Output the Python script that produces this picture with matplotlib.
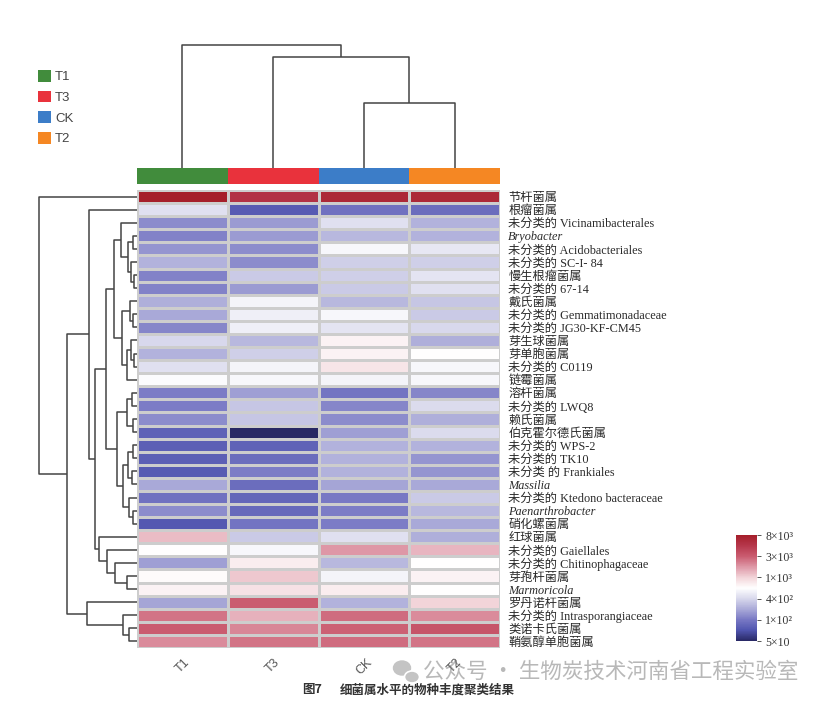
import matplotlib
matplotlib.use('Agg')
import matplotlib.pyplot as plt
import numpy as np
from matplotlib.colors import LinearSegmentedColormap, ListedColormap
from matplotlib.patches import Patch, Ellipse
import matplotlib.cm as cm
import matplotlib.colors as mcolors

# ---------------- data ----------------
groups = ['T1', 'T3', 'CK', 'T2']
group_colors = ['#418c3c', '#e9323c', '#3c7dc8', '#f58723']
legend_order = ['T1', 'T3', 'CK', 'T2']

genera = ['节杆菌属', '根瘤菌属', '未分类的 Vicinamibacterales', 'Bryobacter',
          '未分类的 Acidobacteriales', '未分类的 SC-I- 84', '慢生根瘤菌属', '未分类的 67-14',
          '戴氏菌属', '未分类的 Gemmatimonadaceae', '未分类的 JG30-KF-CM45', '芽生球菌属',
          '芽单胞菌属', '未分类的 C0119', '链霉菌属', '溶杆菌属', '未分类的 LWQ8', '赖氏菌属',
          '伯克霍尔德氏菌属', '未分类的 WPS-2', '未分类的 TK10', '未分类 的 Frankiales',
          'Massilia', '未分类的 Ktedono bacteraceae', 'Paenarthrobacter', '硝化螺菌属',
          '红球菌属', '未分类的 Gaiellales', '未分类的 Chitinophagaceae', '芽孢杆菌属',
          'Marmoricola', '罗丹诺杆菌属', '未分类的 Intrasporangiaceae', '类诺卡氏菌属',
          '鞘氨醇单胞菌属']
italic_names = ['Bryobacter', 'Massilia', 'Paenarthrobacter', 'Marmoricola']

# abundance expressed as position on the colour key (0 = 5x10 ... 5 = 8x10^3)
T1 = [5.0, 2.1, 1.2, 1.1, 1.3, 1.6, 1.1, 1.1, 1.55, 1.5, 1.15, 2.0, 1.6, 2.1, 2.45,
      1.05, 1.05, 1.2, 0.7, 0.65, 0.65, 0.6, 1.5, 0.9, 1.2, 0.55, 3.2, 2.5, 1.4, 2.55,
      2.65, 1.45, 3.8, 4.0, 3.6]
T3 = [4.6, 0.6, 1.35, 1.35, 1.2, 1.2, 1.85, 1.35, 2.35, 2.3, 2.3, 1.65, 1.9, 2.35, 2.4,
      1.4, 1.8, 1.8, 0.0, 0.7, 0.85, 1.05, 0.85, 0.75, 0.8, 0.95, 1.85, 2.4, 2.7, 3.1,
      2.85, 4.0, 3.3, 3.65, 3.8]
CK = [4.8, 0.9, 2.1, 1.65, 2.4, 1.9, 1.9, 1.85, 1.65, 2.4, 2.15, 2.65, 2.65, 2.8, 2.35,
      0.95, 1.15, 1.2, 1.4, 1.6, 1.6, 1.6, 1.45, 1.0, 1.05, 1.05, 2.1, 3.5, 1.65, 2.35,
      2.7, 1.6, 3.85, 3.95, 3.85]
T2 = [4.8, 0.85, 1.6, 1.6, 2.2, 1.9, 2.15, 2.1, 1.8, 1.85, 2.0, 1.55, 2.5, 2.4, 2.4,
      1.15, 2.05, 1.55, 2.05, 1.6, 1.3, 1.3, 1.5, 1.85, 1.65, 1.5, 1.55, 3.25, 2.5, 2.65,
      2.5, 3.0, 3.6, 4.1, 3.8]

cbar_tick_labels = ['5×10', '1×10²', '4×10²', '1×10³', '3×10³', '8×10³']

# cluster trees: (left, right, height); leaves are row / column indices
row_tree = (0,
            ((1,
              ((((2, ((3, 4, 4), (5, (6, 7, 3), 6), 9), 16),
                 ((8, (9, 10, 4), 7), ((11, (12, 13, 3), 6), 14, 10), 15), 23),
                (((15, 16, 5), (17, 18, 4), 10),
                 (((19, 20, 4), (21, 22, 5), 9), (23, (24, 25, 4), 8), 14), 20), 31),
               (26, (27, (28, (29, 30, 10), 22), 30), 38), 42), 48),
             (31, (32, (33, 34, 8), 14), 50), 70), 98)
col_tree = (0, (1, (2, 3, 65), 111), 123)

# ---------------- figure ----------------
W, H = 826, 715
fig = plt.figure(figsize=(W / 100, H / 100), dpi=100)
fig.patch.set_facecolor('white')


def px_axes(x0, y0, x1, y1):
    return fig.add_axes([x0 / W, 1 - y1 / H, (x1 - x0) / W, (y1 - y0) / H])


cmap = LinearSegmentedColormap.from_list('bwr_custom', [
    (0.0, (40 / 255, 40 / 255, 100 / 255)),
    (0.1, (80 / 255, 85 / 255, 175 / 255)),
    (0.2, (120 / 255, 120 / 255, 196 / 255)),
    (0.3, (170 / 255, 170 / 255, 216 / 255)),
    (0.4, (216 / 255, 216 / 255, 236 / 255)),
    (0.5, (1, 1, 1)),
    (0.6, (242 / 255, 212 / 255, 217 / 255)),
    (0.7, (222 / 255, 152 / 255, 167 / 255)),
    (0.8, (202 / 255, 92 / 255, 112 / 255)),
    (0.9, (182 / 255, 56 / 255, 76 / 255)),
    (1.0, (165 / 255, 30 / 255, 42 / 255)),
])

data = np.column_stack([T1, T3, CK, T2])
nrow, ncol = data.shape

hx0, hx1, hy0, hy1 = 137, 500, 190, 648
ax = px_axes(hx0, hy0, hx1, hy1)
ax.pcolormesh(np.arange(ncol + 1), np.arange(nrow + 1), data, cmap=cmap, vmin=0, vmax=5,
              edgecolors='#cdcdcd', linewidth=0.75)
ax.set_xlim(0, ncol)
ax.set_ylim(nrow, 0)
for s in ax.spines.values():
    s.set_visible(False)
ax.yaxis.tick_right()
ax.set_yticks(np.arange(nrow) + 0.5)
ax.set_yticklabels(genera)
ax.tick_params(axis='y', length=0, pad=6)
fam = ['Liberation Serif', 'Noto Sans CJK SC']
for lab in ax.get_yticklabels():
    lab.set_fontfamily(fam)
    lab.set_fontsize(8.8)
    lab.set_color('#2a2a2a')
    if lab.get_text() in italic_names:
        lab.set_fontstyle('italic')
ax.set_xticks(np.arange(ncol) + 0.5)
ax.set_xticklabels(groups, rotation=45, ha='center', va='top', fontsize=9,
                   family='Liberation Sans', color='#555555')
ax.tick_params(axis='x', length=0, pad=6)

# annotation bar
axa = px_axes(hx0, 168, hx1, 184)
axa.pcolormesh(np.arange(ncol + 1), [0, 1], np.arange(ncol)[None, :],
               cmap=ListedColormap(group_colors), vmin=-0.5, vmax=ncol - 0.5)
axa.set_xlim(0, ncol)
axa.axis('off')


def draw_tree(node, axd, orient):
    if isinstance(node, int):
        return node + 0.5, 0
    l, r, h = node
    pl, hl = draw_tree(l, axd, orient)
    pr, hr = draw_tree(r, axd, orient)
    kw = dict(color='#444444', lw=1.1, solid_capstyle='butt')
    if orient == 'left':
        axd.plot([hl, h, h, hr], [pl, pl, pr, pr], **kw)
    else:
        axd.plot([pl, pl, pr, pr], [hl, h, h, hr], **kw)
    return (pl + pr) / 2, h


# top dendrogram
axt = px_axes(hx0, 40, hx1, 168)
draw_tree(col_tree, axt, 'top')
axt.set_xlim(0, ncol)
axt.set_ylim(0, 128)
axt.axis('off')

# left dendrogram
axl = px_axes(35, hy0, hx0, hy1)
draw_tree(row_tree, axl, 'left')
axl.set_xlim(102, 0)
axl.set_ylim(nrow, 0)
axl.axis('off')

# colour bar
cax = px_axes(736, 535, 757, 641)
sm = cm.ScalarMappable(norm=mcolors.Normalize(0, 5), cmap=cmap)
cb = fig.colorbar(sm, cax=cax, ticks=np.arange(6))
cb.outline.set_visible(False)
cb.ax.set_yticklabels(cbar_tick_labels)
cb.ax.tick_params(length=3, width=0.7, color='#555555', pad=3)
for lab in cb.ax.get_yticklabels():
    lab.set_fontfamily('Liberation Serif')
    lab.set_fontsize(8.5)
    lab.set_color('#333333')

# legend
handles = [Patch(facecolor=group_colors[groups.index(g)], edgecolor='none', label=g)
           for g in legend_order]
leg = fig.legend(handles=handles, loc='upper left', bbox_to_anchor=(26 / W, 1 - 58 / H),
                 frameon=False, handlelength=1.0, handleheight=1.0, handletextpad=0.3,
                 labelspacing=0.55, prop={'family': 'Liberation Sans', 'size': 9.5})
for t in leg.get_texts():
    t.set_color('#444444')

# overlay for caption / watermark
ov = fig.add_axes([0, 0, 1, 1], zorder=-1)
ov.set_xlim(0, W)
ov.set_ylim(H, 0)
ov.axis('off')
ov.text(302, 690, '图7', fontsize=9, family='Noto Sans CJK SC', weight='bold',
        color='#333333', va='center', ha='left')
ov.text(340, 690, '细菌属水平的物种丰度聚类结果', fontsize=9, family='Noto Sans CJK SC',
        weight='bold', color='#333333', va='center', ha='left')
ov.add_patch(Ellipse((402, 668), 17, 14, color='#c4c4c4'))
ov.add_patch(Ellipse((412, 677), 15, 12, color='#c4c4c4', ec='white', lw=1.2))
ov.text(423, 672, '公众号 · 生物炭技术河南省工程实验室', fontsize=15.5,
        family='Noto Sans CJK SC', color='#b8b8b8', va='center', ha='left')

fig.savefig('out.png', dpi=100, facecolor='white')
